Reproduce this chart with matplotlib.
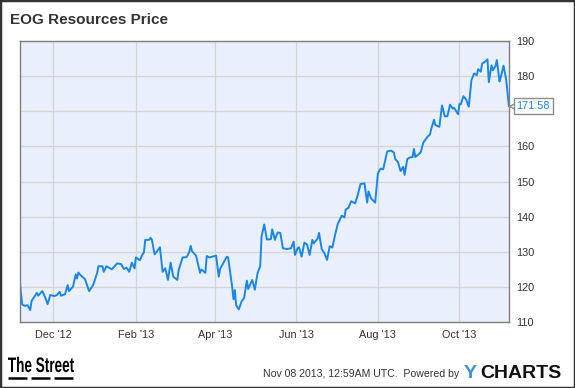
import numpy as np
import pandas as pd
import matplotlib
matplotlib.use("Agg")
import matplotlib.pyplot as plt
import matplotlib.dates as mdates
import matplotlib.transforms as mtransforms
from matplotlib.patches import Rectangle, PathPatch
from matplotlib.textpath import TextPath
from matplotlib.font_manager import FontProperties

plt.rcParams['font.family'] = ['Liberation Sans', 'DejaVu Sans']

# EOG daily close (days counted from start_date)
start_date = "2012-11-06"
day_offsets = [0, 2, 4, 6, 8, 9, 13, 14, 17, 19, 21, 23, 26, 28, 30, 31, 34, 36, 37, 40,
               42, 43, 44, 46, 49, 52, 55, 58, 59, 62, 63, 65, 69, 73, 76, 78, 80, 82, 84, 86,
               87, 90, 92, 93, 94, 97, 98, 99, 101, 103, 105, 107, 109, 111, 113, 115, 118, 119, 122, 125,
               127, 128, 129, 132, 135, 136, 139, 140, 142, 147, 149, 150, 154, 155, 156, 159, 160, 161, 162, 164,
               166, 168, 170, 171, 174, 176, 178, 180, 181, 183, 185, 188, 189, 191, 193, 195, 197, 200, 203, 205,
               206, 208, 209, 211, 213, 215, 217, 219, 220, 223, 224, 226, 228, 230, 232, 234, 236, 238, 241, 243,
               244, 246, 248, 251, 253, 255, 258, 260, 261, 263, 266, 268, 270, 272, 275, 278, 280, 281, 283, 285,
               287, 288, 290, 292, 294, 295, 296, 298, 300, 302, 305, 307, 308, 310, 311, 314, 316, 318, 320, 322,
               324, 325, 328, 329, 330, 332, 334, 336, 338, 340, 342, 343, 345, 346, 348, 350, 351, 353, 354, 356,
               357, 359, 360, 362, 364, 366]
prices = [122.0, 115.0, 114.6, 114.8, 113.4, 116.0, 118.3, 117.5, 118.8, 117.2, 115.1, 117.7, 117.4, 117.7, 118.6, 117.5, 117.9, 120.5, 118.8, 120.1,
          123.6, 122.4, 124.1, 123.2, 122.2, 118.8, 120.5, 123.9, 125.9, 125.9, 124.3, 125.9, 125.0, 126.7, 126.5, 125.1, 125.5, 124.3, 126.9, 125.3,
          128.4, 127.6, 129.3, 129.8, 133.4, 133.4, 134.0, 133.4, 129.3, 130.2, 131.3, 124.3, 125.3, 122.0, 126.9, 122.9, 122.0, 124.8, 128.4, 128.5,
          130.0, 131.7, 130.2, 128.9, 124.0, 125.0, 124.0, 128.8, 128.4, 128.9, 122.9, 125.1, 127.9, 128.6, 128.4, 120.1, 116.5, 119.1, 114.8, 113.6,
          115.8, 116.9, 121.8, 119.4, 122.0, 119.2, 123.9, 125.9, 134.3, 137.8, 133.5, 133.6, 136.4, 133.4, 135.5, 135.4, 131.0, 130.8, 131.0, 132.9,
          129.1, 131.0, 131.3, 128.6, 132.6, 132.1, 129.1, 133.4, 132.4, 133.8, 135.4, 130.8, 129.6, 127.7, 131.6, 131.2, 134.8, 137.9, 140.3, 139.8,
          142.1, 142.5, 144.4, 143.8, 146.2, 149.3, 149.5, 144.0, 147.2, 145.2, 144.0, 152.3, 153.7, 153.5, 158.6, 158.8, 158.3, 156.4, 155.6, 153.0,
          154.2, 151.9, 156.4, 156.9, 157.0, 159.3, 157.0, 157.6, 158.3, 161.1, 162.7, 163.4, 165.1, 167.6, 166.1, 165.6, 171.7, 168.6, 168.6, 171.9,
          170.8, 171.0, 169.2, 172.1, 172.0, 174.3, 173.4, 171.3, 178.9, 180.8, 180.3, 182.0, 181.3, 183.6, 184.1, 184.8, 178.3, 183.1, 181.7, 182.9,
          184.6, 178.5, 179.8, 183.0, 179.0, 171.58]
y_ticks = [110, 120, 130, 140, 150, 160, 170, 180, 190]

dates = pd.to_datetime(start_date) + pd.to_timedelta(day_offsets, unit="D")
line_color = '#1a87e6'

fig = plt.figure(figsize=(5.75, 3.88), dpi=100)
fig.patch.set_facecolor('white')
fig.patches.append(Rectangle((0, 0), 1, 1, transform=fig.transFigure, fill=False,
                             edgecolor='#333333', linewidth=2.5))

ax = fig.add_axes([0.034, 0.170, 0.851, 0.724])
ax.set_facecolor('#eaf0fb')
ax.plot(dates, prices, color=line_color, lw=1.4, solid_joinstyle='round')

ax.set_xlim(dates[0], dates[-1])
ax.set_ylim(110, 190)
ax.set_yticks(y_ticks)
ax.yaxis.tick_right()
ax.xaxis.set_major_locator(mdates.MonthLocator(bymonth=[2, 4, 6, 8, 10, 12]))
ax.xaxis.set_major_formatter(mdates.DateFormatter("%b '%y"))
ax.tick_params(length=0, labelsize=7.8, colors='#333333', pad=6)
ax.tick_params(axis='y', pad=5)
ax.grid(True, color='#d4d4d4', lw=1)
ax.set_axisbelow(True)
for s in ax.spines.values():
    s.set_color('#7f7f7f')
    s.set_linewidth(1)

# last value flag with a little pointer
notch = mtransforms.offset_copy(ax.transData, fig=fig, x=4.5, y=0, units='dots')
ax.plot([dates[-1]], [prices[-1]], marker='<', ms=6, mfc='white', mec='#8c8c8c',
        mew=1, transform=notch, clip_on=False, zorder=5)
ax.annotate(f"{prices[-1]:.2f}", xy=(dates[-1], prices[-1]), xytext=(5.6, 0),
            textcoords='offset points', va='center', ha='left', fontsize=7.8,
            color=line_color, annotation_clip=False, zorder=6,
            bbox=dict(boxstyle='square,pad=0.25', fc='white', ec='#8c8c8c', lw=1))

fig.text(0.018, 0.948, "EOG Resources Price", fontsize=11, fontweight='bold',
         color='#333333', va='center', ha='left')

# footer: condensed "The Street" logo
logo = TextPath((0, 0), "The Street", size=21,
                prop=FontProperties(family='Liberation Sans', weight='bold'))
ext = logo.get_extents()
sx = 66.0 / ext.width
logo_tr = mtransforms.Affine2D().translate(-ext.x0, 0).scale(sx, 1.0).translate(8, 16)
fig.add_artist(PathPatch(logo, transform=logo_tr, fc='black', ec='none'))
for x0 in (8, 31, 54):
    fig.add_artist(plt.Line2D([x0, x0 + 19], [10, 10], color='black', lw=1.8,
                              solid_capstyle='butt', transform=mtransforms.IdentityTransform()))

fig.text(0.798, 0.035, "Nov 08 2013, 12:59AM UTC.  Powered by", fontsize=7.6,
         color='#333333', va='center', ha='right')
fig.text(0.806, 0.037, "Y", fontsize=14, fontweight='bold', color='#3a8ee6',
         va='center', ha='left')
fig.text(0.835, 0.037, "CHARTS", fontsize=14, fontweight='bold', color='#111111',
         va='center', ha='left')

fig.savefig("out.png", dpi=100)
